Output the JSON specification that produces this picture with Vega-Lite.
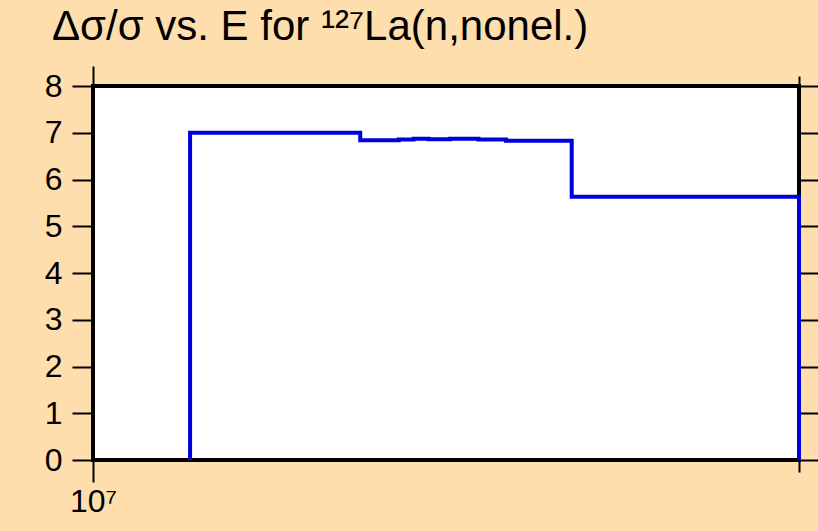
{
  "$schema": "https://vega.github.io/schema/vega-lite/v6.json",
  "width": 706,
  "height": 374,
  "autosize": {"type": "none"},
  "padding": {"left": 93, "top": 86, "right": 19, "bottom": 71},
  "background": "#FFDEAD",
  "title": {
    "text": "Δσ/σ vs. E for ¹²⁷La(n,nonel.)",
    "anchor": "start",
    "frame": "group",
    "font": "Liberation Sans",
    "fontSize": 42,
    "fontWeight": "normal",
    "color": "black",
    "baseline": "alphabetic",
    "dx": -41,
    "dy": 39,
    "offset": 22
  },
  "config": {
    "view": {"stroke": "black", "strokeWidth": 4, "fill": "white"},
    "axis": {"grid": false, "domain": false, "title": null, "tickColor": "black", "tickWidth": 2, "labelFont": "Liberation Sans", "labelColor": "black", "labelFontSize": 32}
  },
  "data": {
    "values": [
      {"i": 0, "E": 11000000, "v": 0},
      {"i": 1, "E": 11000000, "v": 7.0},
      {"i": 2, "E": 13000000, "v": 6.84},
      {"i": 3, "E": 13500000, "v": 6.855},
      {"i": 4, "E": 13700000, "v": 6.87},
      {"i": 5, "E": 13900000, "v": 6.86},
      {"i": 6, "E": 14200000, "v": 6.87},
      {"i": 7, "E": 14600000, "v": 6.855},
      {"i": 8, "E": 15000000, "v": 6.83},
      {"i": 9, "E": 16000000, "v": 5.63},
      {"i": 10, "E": 20000000, "v": 5.63},
      {"i": 11, "E": 20000000, "v": 0}
    ]
  },
  "layer": [
    {
      "mark": {"type": "line", "interpolate": "step-after", "color": "#0000DD", "strokeWidth": 4},
      "encoding": {
        "x": {"field": "E", "type": "quantitative", "scale": {"type": "log", "domain": [10000000, 20000000], "nice": false},
          "axis": {"orient": "bottom", "values": [10000000, 20000000], "tickSize": {"condition": {"test": "datum.value < 15000000", "value": 22}, "value": 12}, "labelExpr": "datum.value < 15000000 ? '10⁷' : ''", "labelPadding": 4, "labelFlush": false}},
        "y": {"field": "v", "type": "quantitative", "scale": {"domain": [0, 8], "nice": false, "zero": false},
          "axis": {"orient": "left", "values": [0, 1, 2, 3, 4, 5, 6, 7, 8], "tickSize": 21, "labelPadding": 10}},
        "order": {"field": "i", "type": "quantitative"}
      }
    },
    {
      "mark": {"type": "line", "strokeOpacity": 0},
      "encoding": {
        "x": {"field": "E", "type": "quantitative", "scale": {"type": "log", "domain": [10000000, 20000000], "nice": false},
          "axis": {"orient": "top", "values": [10000000, 20000000], "labels": false, "tickSize": {"condition": {"test": "datum.value < 15000000", "value": 20}, "value": 10}}},
        "y": {"field": "v", "type": "quantitative", "scale": {"domain": [0, 8], "nice": false, "zero": false},
          "axis": {"orient": "right", "values": [0, 1, 2, 3, 4, 5, 6, 7, 8], "labels": false, "tickSize": 19}},
        "order": {"field": "i", "type": "quantitative"}
      }
    }
  ],
  "resolve": {"axis": {"x": "independent", "y": "independent"}}
}
